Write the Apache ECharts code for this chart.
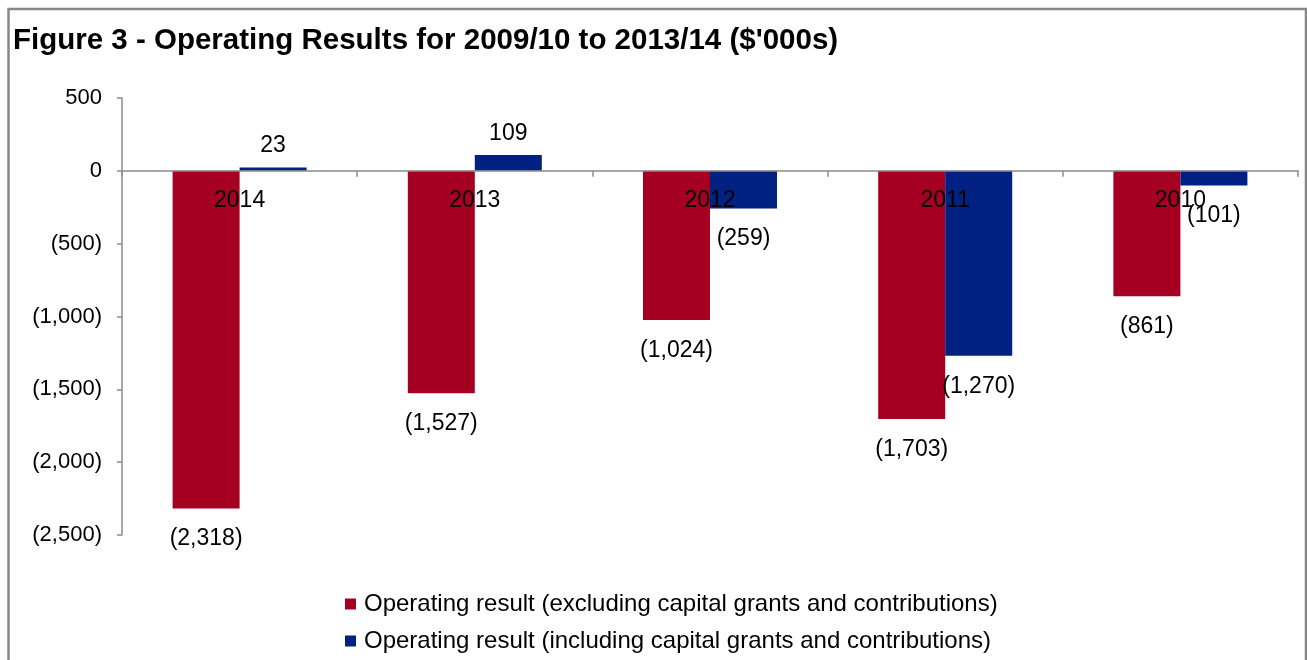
<!DOCTYPE html>
<html>
<head>
<meta charset="utf-8">
<title>Operating Results</title>
<script src="https://cdn.jsdelivr.net/npm/echarts@6/dist/echarts.min.js"></script>
<style>
  html, body { margin: 0; padding: 0; background: #fff; }
  #chart { width: 1307px; height: 660px; }
</style>
</head>
<body>
<div id="chart"></div>
<script>
// Financial years (ending June), most recent first
const categories = ['2014', '2013', '2012', '2011', '2010'];

// Operating result excluding capital grants and contributions ($'000s)
const excludingCapital = [-2318, -1527, -1024, -1703, -861];

// Operating result including capital grants and contributions ($'000s)
const includingCapital = [23, 109, -259, -1270, -101];

// Value axis range and step
const axisMin = -2500;
const axisMax = 500;
const axisStep = 500;

const seriesNames = [
  'Operating result (excluding capital grants and contributions)',
  'Operating result (including capital grants and contributions)'
];

const FONT = '"Liberation Sans", Arial, sans-serif';

// Plot area margins
const GRID = { left: 122, right: 9, top: 98, bottom: 125 };
const CHART_H = 660;

// Accounting style: negatives in brackets, thousands separated by commas
function accounting(v) {
  const s = Math.abs(v).toLocaleString('en-US');
  return v < 0 ? '(' + s + ')' : s;
}

// Category axis sits on the zero line: shift it up from the plot bottom
const plotHeight = CHART_H - GRID.top - GRID.bottom;
const zeroOffset = -plotHeight * (0 - axisMin) / (axisMax - axisMin);

const labelBase = {
  show: true,
  position: 'outside',
  fontFamily: FONT,
  fontSize: 23,
  color: '#000',
  formatter: p => accounting(p.value)
};

// Labels sit a little further from the end of negative bars than positive ones
function withLabels(values) {
  return values.map(v => ({ value: v, label: { distance: v < 0 ? 19 : 10 } }));
}

const chart = echarts.init(document.getElementById('chart'), null, { renderer: 'canvas' });

chart.setOption({
  backgroundColor: '#fff',
  animation: false,
  title: {
    text: "Figure 3 - Operating Results for 2009/10 to 2013/14 ($'000s)",
    left: 13,
    top: 26,
    padding: 0,
    textStyle: { fontFamily: FONT, fontSize: 29.5, fontWeight: 'bold', color: '#000' }
  },
  graphic: [{
    type: 'rect',
    silent: true,
    z: -1,
    shape: { x: 8.5, y: 9, width: 1297.5, height: 700 },
    style: { fill: 'none', stroke: '#878787', lineWidth: 2.5 }
  }],
  legend: {
    orient: 'vertical',
    left: 345,
    top: 592,
    itemWidth: 11,
    itemHeight: 11,
    itemGap: 13,
    icon: 'rect',
    padding: 0,
    textStyle: { fontFamily: FONT, fontSize: 24, color: '#000', padding: [0, 0, 0, 3] },
    data: seriesNames
  },
  grid: {
    left: GRID.left,
    right: GRID.right,
    top: GRID.top,
    bottom: GRID.bottom,
    containLabel: false,
    outerBoundsMode: 'none'
  },
  xAxis: {
    type: 'category',
    data: categories,
    position: 'bottom',
    offset: zeroOffset,
    z: 5,
    axisLine: { onZero: false, lineStyle: { color: '#8c8c8c', width: 1.5 } },
    axisTick: { show: true, inside: false, length: 6, lineStyle: { color: '#8c8c8c', width: 1.5 } },
    axisLabel: { interval: 0, margin: 18, fontFamily: FONT, fontSize: 23, color: '#000' },
    splitLine: { show: false }
  },
  yAxis: {
    type: 'value',
    min: axisMin,
    max: axisMax,
    interval: axisStep,
    axisLine: { show: true, lineStyle: { color: '#8c8c8c', width: 1.5 } },
    axisTick: { show: true, length: 5, lineStyle: { color: '#8c8c8c', width: 1.5 } },
    axisLabel: { margin: 20, fontFamily: FONT, fontSize: 22, color: '#000', formatter: v => accounting(v) },
    splitLine: { show: false }
  },
  series: [
    {
      name: seriesNames[0],
      type: 'bar',
      data: withLabels(excludingCapital),
      barWidth: 67,
      barGap: '0%',
      itemStyle: { color: '#A50021' },
      label: labelBase
    },
    {
      name: seriesNames[1],
      type: 'bar',
      data: withLabels(includingCapital),
      barWidth: 67,
      barGap: '0%',
      itemStyle: { color: '#002082' },
      label: labelBase
    }
  ]
});
</script>
</body>
</html>
